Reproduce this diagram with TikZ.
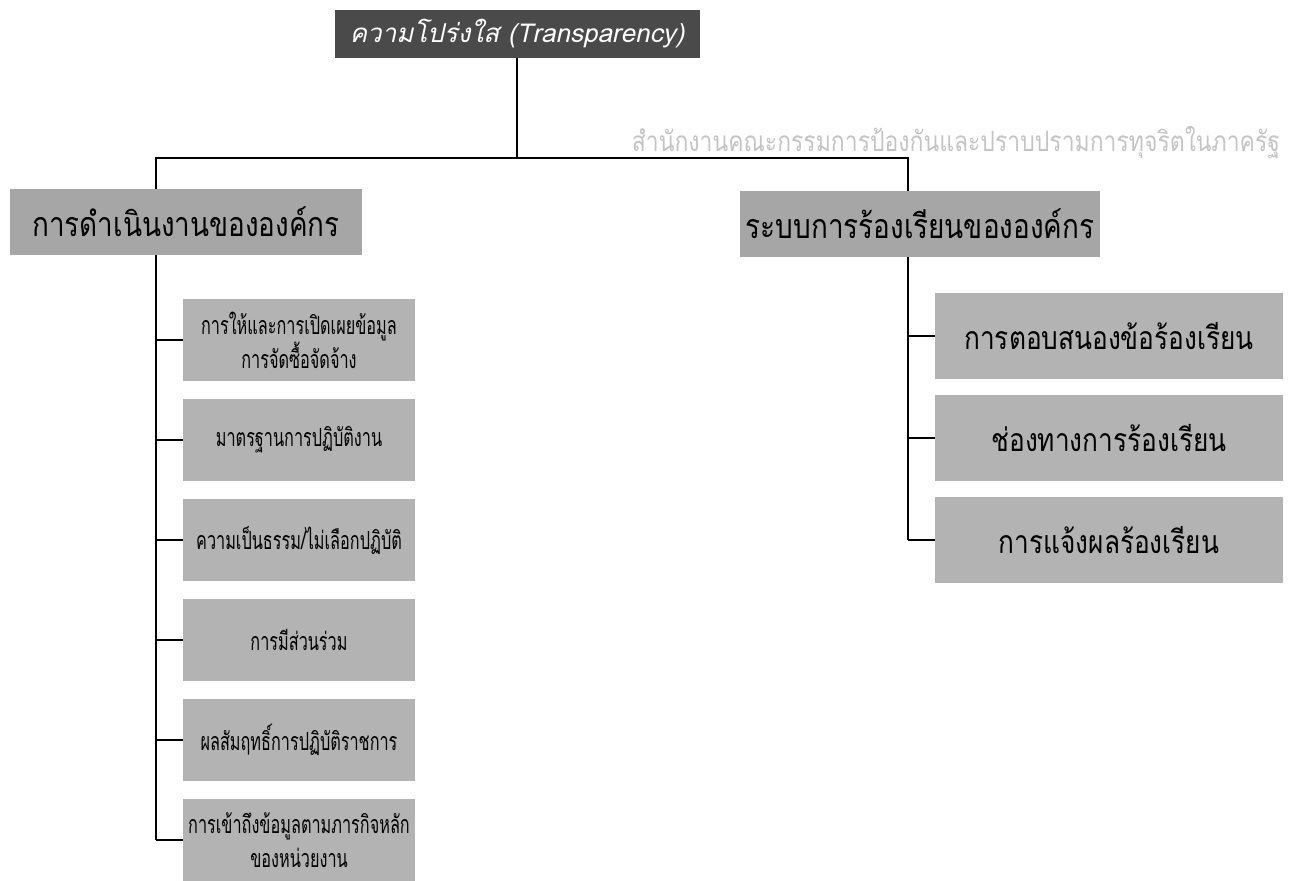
\documentclass[tikz,border=0pt]{standalone}
\usepackage{fontspec}
\newfontfamily\thai[Script=Thai]{Loma}
\newfontfamily\thaic[Script=Thai,FakeStretch=0.82]{Loma}
\newfontfamily\thaicc[Script=Thai,FakeStretch=0.65]{Loma}
\newfontfamily\thaisl[Script=Thai,FakeSlant=0.22]{Loma}
\definecolor{topgray}{HTML}{4A4A4A}
\definecolor{lvlgray}{HTML}{A6A6A6}
\definecolor{leafgray}{HTML}{B3B3B3}
\definecolor{faint}{HTML}{C4C4C4}
\begin{document}
\begin{tikzpicture}[x=1pt,y=-1pt,
  topbox/.style={fill=topgray,text=white,minimum width=365,minimum height=48,inner sep=0,font=\thaisl\fontsize{26}{30}\selectfont},
  lvlbox/.style={fill=lvlgray,minimum height=66,inner sep=0,font=\thaic\fontsize{34}{38}\selectfont},
  lleaf/.style={fill=leafgray,inner sep=0,align=center,text width=232,minimum height=82,font=\thaicc\fontsize{25}{34}\selectfont},
  rleaf/.style={fill=leafgray,inner sep=0,align=center,text width=348,minimum height=86,font=\thaic\fontsize{32}{36}\selectfont},
  conn/.style={line width=2pt,draw=black}]
\useasboundingbox (0,0) rectangle (1291,881);
\node[topbox] (top) at (517,34) {ความโปร่งใส (Transparency)};
\node[text=faint,inner sep=0,font=\thaic\fontsize{28}{30}\selectfont] (watermark) at (956,143) {สำนักงานคณะกรรมการป้องกันและปราบปรามการทุจริตในภาครัฐ};
\node[lvlbox,minimum width=352] (L) at (186,222) {การดำเนินงานขององค์กร};
\node[lvlbox,minimum width=360] (R) at (920,224) {ระบบการร้องเรียนขององค์กร};
% left leaves
\node[lleaf] (l1) at (299,340) {การให้และการเปิดเผยข้อมูล\\การจัดซื้อจัดจ้าง};
\node[lleaf] (l2) at (299,440) {มาตรฐานการปฏิบัติงาน};
\node[lleaf] (l3) at (299,540) {ความเป็นธรรม/ไม่เลือกปฏิบัติ};
\node[lleaf] (l4) at (299,640) {การมีส่วนร่วม};
\node[lleaf] (l5) at (299,740) {ผลสัมฤทธิ์การปฏิบัติราชการ};
\node[lleaf] (l6) at (299,840) {การเข้าถึงข้อมูลตามภารกิจหลัก\\ของหน่วยงาน};
% right leaves
\node[rleaf] (r1) at (1109,336) {การตอบสนองข้อร้องเรียน};
\node[rleaf] (r2) at (1109,438) {ช่องทางการร้องเรียน};
\node[rleaf] (r3) at (1109,540) {การแจ้งผลร้องเรียน};
% connectors
\coordinate (j) at (517,158);
\path (L.south west) ++(146,0) coordinate (Ls);
\path (R.south west) ++(168,0) coordinate (Rs);
\draw[conn] (top.south) -- (j);
\draw[conn] (Ls |- L.north) |- (j) -| (Rs |- R.north);
\draw[conn] (Ls) -- (Ls |- l6.west);
\draw[conn] (Rs) -- (Rs |- r3.west);
\foreach \n in {l1,l2,l3,l4,l5,l6} \draw[conn] (Ls |- \n.west) -- (\n.west);
\foreach \n in {r1,r2,r3} \draw[conn] (Rs |- \n.west) -- (\n.west);
\end{tikzpicture}
\end{document}
